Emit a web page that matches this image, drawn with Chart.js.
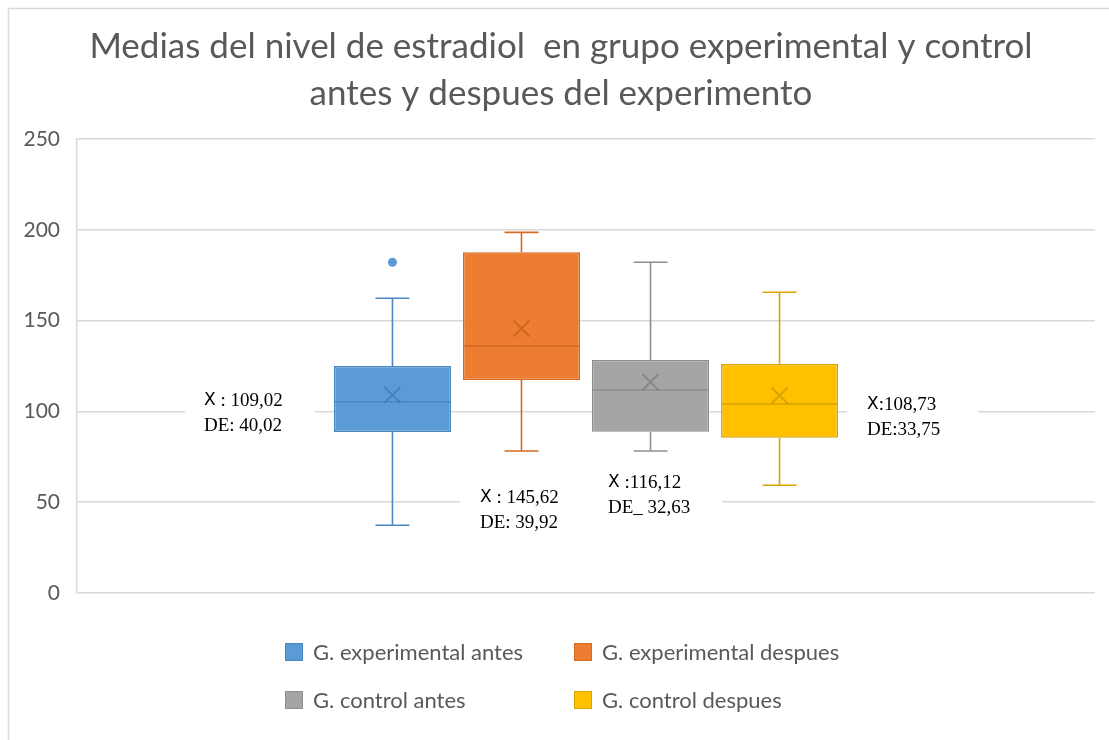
<!DOCTYPE html>
<html>
<head>
<meta charset="utf-8">
<script src="https://cdn.jsdelivr.net/npm/chart.js@4/dist/chart.umd.min.js"></script>
<style>
  html, body { margin: 0; padding: 0; background: #ffffff; }
  canvas { display: block; }
</style>
</head>
<body>
<canvas id="chart" width="1109" height="740"></canvas>
<script>
// Estradiol levels: box-and-whisker summary for each group
const groups = ['G. experimental antes', 'G. experimental despues', 'G. control antes', 'G. control despues'];
const q1 = [88.7, 117.3, 88.8, 85.5];
const q3 = [125.0, 187.6, 128.3, 126.1];
const medians = [105.3, 136.0, 111.8, 104.1];
const means = [109.02, 145.62, 116.12, 108.73];
const whiskerLow = [37.3, 78.2, 78.2, 59.3];
const whiskerHigh = [162.3, 198.6, 182.1, 165.6];
const outliers = [[182.1], [], [], []];
const stdDevs = [40.02, 39.92, 32.63, 33.75];
const yTicks = [0, 50, 100, 150, 200, 250];

const titleLines = ['Medias del nivel de estradiol  en grupo experimental y control', 'antes y despues del experimento'];

const fills = ['#5B9BD5', '#ED7D31', '#A5A5A5', '#FFC000'];
const edges = ['#4A86C2', '#D56A22', '#8E8E8E', '#D9A300'];
const marks = ['rgba(60,110,165,0.55)', 'rgba(180,85,25,0.55)', 'rgba(110,110,110,0.55)', 'rgba(190,140,0,0.55)'];

const SANS = 'Lato, "Liberation Sans", sans-serif';
const SERIF = '"Liberation Serif", "Times New Roman", serif';

const fmt = v => v.toFixed(2).replace('.', ',');

// Text notes beside the boxes: [x, line-1 centre y, background rect, separator, sd separator]
const notes = [
  { x: 204, y: 401, bg: [185, 385, 130, 56], sep: ' : ', sdSep: 'DE: ' },
  { x: 480, y: 498, bg: [460, 480, 130, 60], sep: ' : ', sdSep: 'DE: ' },
  { x: 608, y: 483, bg: [590, 465, 132, 56], sep: ' :', sdSep: 'DE_ ' },
  { x: 867, y: 405, bg: [847, 390, 131, 56], sep: ':', sdSep: 'DE:' }
];

const boxExtras = {
  id: 'boxExtras',
  beforeDraw(chart) {
    const c = chart.ctx;
    c.save();
    c.fillStyle = '#ffffff';
    c.fillRect(0, 0, chart.width, chart.height);
    // outer frame
    c.strokeStyle = '#d9d9d9';
    c.lineWidth = 1.5;
    c.beginPath();
    c.moveTo(8.5, chart.height);
    c.lineTo(8.5, 8.5);
    c.lineTo(chart.width, 8.5);
    c.stroke();
    c.restore();
  },
  beforeDatasetsDraw(chart) {
    // white panels behind the note texts
    const c = chart.ctx;
    c.save();
    c.fillStyle = '#ffffff';
    notes.forEach(n => c.fillRect(n.bg[0], n.bg[1], n.bg[2], n.bg[3]));
    c.restore();
  },
  afterDatasetsDraw(chart) {
    const c = chart.ctx;
    const y = chart.scales.y;
    c.save();
    chart.data.datasets.forEach((ds, i) => {
      const bar = chart.getDatasetMeta(i).data[0];
      const cx = bar.x;
      const w = bar.width;
      const half = w / 2;
      const cap = w * 0.145;
      c.strokeStyle = edges[i];
      c.lineWidth = 1.6;
      // whiskers
      c.beginPath();
      c.moveTo(cx, y.getPixelForValue(q3[i]));
      c.lineTo(cx, y.getPixelForValue(whiskerHigh[i]));
      c.moveTo(cx - cap, y.getPixelForValue(whiskerHigh[i]));
      c.lineTo(cx + cap, y.getPixelForValue(whiskerHigh[i]));
      c.moveTo(cx, y.getPixelForValue(q1[i]));
      c.lineTo(cx, y.getPixelForValue(whiskerLow[i]));
      c.moveTo(cx - cap, y.getPixelForValue(whiskerLow[i]));
      c.lineTo(cx + cap, y.getPixelForValue(whiskerLow[i]));
      // median
      const my = y.getPixelForValue(medians[i]);
      c.moveTo(cx - half, my);
      c.lineTo(cx + half, my);
      c.stroke();
      // mean marker
      const ay = y.getPixelForValue(means[i]);
      const r = 8;
      c.strokeStyle = marks[i];
      c.lineWidth = 2;
      c.beginPath();
      c.moveTo(cx - r, ay - r);
      c.lineTo(cx + r, ay + r);
      c.moveTo(cx + r, ay - r);
      c.lineTo(cx - r, ay + r);
      c.stroke();
      // outliers
      c.fillStyle = fills[i];
      outliers[i].forEach(v => {
        c.beginPath();
        c.arc(cx, y.getPixelForValue(v), 4.5, 0, Math.PI * 2);
        c.fill();
      });
    });
    c.restore();
  },
  afterDraw(chart) {
    const c = chart.ctx;
    c.save();
    // title
    c.fillStyle = '#595959';
    c.font = '400 35px ' + SANS;
    c.textAlign = 'center';
    c.textBaseline = 'middle';
    c.fillText(titleLines[0], 561, 47);
    c.fillText(titleLines[1], 561, 94);

    // notes with mean and standard deviation
    c.textAlign = 'left';
    c.fillStyle = '#000000';
    notes.forEach((n, i) => {
      c.font = '17px "DejaVu Sans", sans-serif';
      c.fillText('X', n.x, n.y);
      const xw = c.measureText('X').width;
      c.font = '19px ' + SERIF;
      c.fillText(n.sep + fmt(means[i]), n.x + xw, n.y);
      c.fillText(n.sdSep + fmt(stdDevs[i]), n.x, n.y + 25);
    });

    // legend
    const spots = [[285, 652], [574, 652], [285, 700], [574, 700]];
    c.font = '22px ' + SANS;
    chart.data.datasets.forEach((ds, i) => {
      const [lx, ly] = spots[i];
      c.fillStyle = fills[i];
      c.fillRect(lx, ly - 9, 18, 18);
      c.strokeStyle = edges[i];
      c.lineWidth = 1;
      c.strokeRect(lx + 0.5, ly - 8.5, 17, 17);
      c.fillStyle = '#595959';
      c.fillText(ds.label, lx + 28, ly + 1);
    });
    c.restore();
  }
};

new Chart(document.getElementById('chart'), {
  type: 'bar',
  data: {
    labels: [''],
    datasets: groups.map((g, i) => ({
      label: g,
      data: [[q1[i], q3[i]]],
      backgroundColor: fills[i],
      borderColor: edges[i],
      borderWidth: 1.5,
      borderSkipped: false,
      categoryPercentage: 0.507,
      barPercentage: 0.907
    }))
  },
  options: {
    responsive: false,
    animation: false,
    devicePixelRatio: 1,
    layout: { padding: { left: 0, top: 139, right: 14, bottom: 147 } },
    plugins: {
      legend: { display: false },
      title: { display: false },
      tooltip: { enabled: false }
    },
    scales: {
      x: { display: false, offset: true },
      y: {
        min: yTicks[0],
        max: yTicks[yTicks.length - 1],
        afterBuildTicks(scale) { scale.ticks = yTicks.map(v => ({ value: v })); },
        afterFit(scale) { scale.width = 77; },
        ticks: { color: '#595959', font: { family: SANS, size: 21 }, padding: 17 },
        grid: { color: '#d9d9d9', lineWidth: 1.5, drawTicks: false },
        border: { display: true, color: '#d9d9d9', width: 1.5 }
      }
    }
  },
  plugins: [boxExtras]
});
</script>
</body>
</html>
